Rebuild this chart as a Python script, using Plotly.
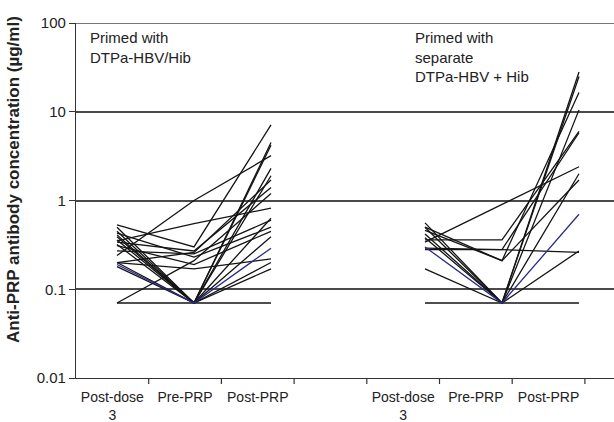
import plotly.graph_objects as go

# ---------------- data ----------------
timepoints = ["Post-dose 3", "Pre-PRP", "Post-PRP"]
tick_labels = ["Post-dose<br>3", "Pre-PRP", "Post-PRP", "", "Post-dose<br>3", "Pre-PRP", "Post-PRP"]
y_tick_values = [0.01, 0.1, 1, 10, 100]
y_tick_labels = ["0.01", "0.1", "1", "10", "100"]

# Group 1: primed with DTPa-HBV/Hib
g1_post_dose3 = [0.53, 0.50, 0.45, 0.24, 0.41, 0.36, 0.20, 0.34, 0.07, 0.35,
                 0.39, 0.43, 0.31, 0.19, 0.18, 0.20, 0.32, 0.07, 0.20, 0.27]
g1_pre_prp = [0.30, 0.07, 0.07, 1.00, 0.07, 0.07, 0.26, 0.27, 0.21, 0.55,
              0.07, 0.23, 0.19, 0.07, 0.07, 0.17, 0.07, 0.07, 0.07, 0.25]
g1_post_prp = [7.1, 4.5, 4.2, 3.2, 2.3, 1.9, 1.7, 1.4, 1.2, 0.82,
               0.63, 0.50, 0.45, 0.29, 0.39, 0.22, 0.20, 0.07, 0.17, 0.60]
g1_blue = [13]

# Group 2: primed with separate DTPa-HBV + Hib
g2_post_dose3 = [0.56, 0.50, 0.46, 0.38, 0.36, 0.29, 0.34, 0.42, 0.50, 0.30, 0.28, 0.17, 0.07]
g2_pre_prp = [0.07, 0.07, 0.21, 0.07, 0.36, 0.28, 0.90, 0.07, 0.21, 0.07, 0.28, 0.07, 0.07]
g2_post_prp = [28, 25, 16.5, 10.5, 6.0, 5.8, 2.4, 2.0, 1.7, 0.70, 0.26, 0.27, 0.07]
g2_blue = [9]

group_titles = ["Primed with<br>DTPa-HBV/Hib", "Primed with<br>separate<br>DTPa-HBV + Hib"]
y_title = "<b>Anti-PRP antibody concentration (µg/ml)</b>"

# ---------------- figure ----------------
fig = go.Figure()

FONT = "Liberation Sans, Arial, sans-serif"
BLACK = "#141414"
BLUE = "#2a2a8a"

def add_group(a, b, c, blue_idx, axis):
    order = [i for i in range(len(a)) if i not in blue_idx] + list(blue_idx)
    for i in order:
        fig.add_trace(go.Scatter(
            x=timepoints, y=[a[i], b[i], c[i]], mode="lines",
            line=dict(color=BLUE if i in blue_idx else BLACK, width=1.3),
            xaxis=axis, yaxis="y", showlegend=False, hoverinfo="skip"))

add_group(g1_post_dose3, g1_pre_prp, g1_post_prp, g1_blue, "x2")
add_group(g2_post_dose3, g2_pre_prp, g2_post_prp, g2_blue, "x3")

W, H = 614, 422
L, R, T, B = 76, 0, 23, 44
plot_w = W - L - R
plot_h = H - T - B
slot = 72.7
line_step = 77.0
g1_first_px = 117 - L
g2_first_px = 425 - L

main_range = [0, plot_w / slot]

hidden = dict(overlaying="x", anchor="y", type="category",
              categoryorder="array", categoryarray=timepoints,
              showticklabels=False, ticks="", showline=False, showgrid=False,
              zeroline=False, automargin=False)

fig.update_layout(
    width=W, height=H,
    margin=dict(l=L, r=R, t=T, b=B, autoexpand=False),
    paper_bgcolor="white", plot_bgcolor="white",
    font=dict(family=FONT, size=14, color="#222"),
    xaxis=dict(
        range=main_range, tickmode="array",
        tickvals=[k + 0.5 for k in range(len(tick_labels))],
        ticktext=tick_labels, ticks="", showline=True, linecolor="#333",
        linewidth=1.2, showgrid=False, zeroline=False, automargin=False,
        ticklabelstandoff=6, tickfont=dict(size=14, color="#222")),
    xaxis2=dict(hidden, range=[-g1_first_px / line_step, (plot_w - g1_first_px) / line_step]),
    xaxis3=dict(hidden, range=[-g2_first_px / line_step, (plot_w - g2_first_px) / line_step]),
    yaxis=dict(
        type="log", range=[-2, 2], tickmode="array",
        tickvals=y_tick_values, ticktext=y_tick_labels,
        ticks="outside", ticklen=6, tickcolor="#333",
        showline=True, linecolor="#333", linewidth=1.2,
        showgrid=True, gridcolor="#4a4a4a", gridwidth=1.5,
        zeroline=False, automargin=False,
        tickfont=dict(size=15, color="#222")),
)

# category boundary tick marks on the x axis
for k in range(1, len(tick_labels) + 1):
    fig.add_shape(type="line", xref="x", yref="paper", x0=k, x1=k,
                  y0=0, y1=-6 / plot_h, line=dict(color="#333", width=1.2))

# top gridline at 100
fig.add_shape(type="line", xref="paper", yref="y", x0=0, x1=1, y0=100, y1=100,
              line=dict(color="#4a4a4a", width=1.5))

fig.add_annotation(text=y_title, xref="paper", yref="paper", textangle=-90,
                   x=(13 - L) / plot_w, y=1 - (180 - T) / plot_h,
                   xanchor="center", yanchor="middle", showarrow=False,
                   font=dict(size=17, color="#222"))

fig.add_annotation(text=group_titles[0], xref="paper", yref="paper",
                   x=(88 - L) / plot_w, y=0.99, xanchor="left", yanchor="top",
                   align="left", showarrow=False, font=dict(size=15, color="#222"))
fig.add_annotation(text=group_titles[1], xref="paper", yref="paper",
                   x=(413 - L) / plot_w, y=0.99, xanchor="left", yanchor="top",
                   align="left", showarrow=False, font=dict(size=15, color="#222"))

fig.write_html("out.html", config={"displayModeBar": False},
               post_script="document.body.style.margin='0';document.body.style.overflow='hidden';")
